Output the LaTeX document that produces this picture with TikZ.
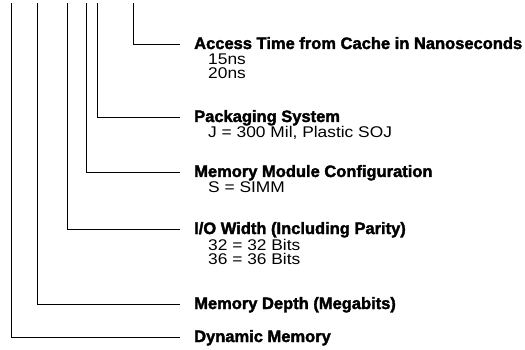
\documentclass[tikz,border=0pt]{standalone}
\usepackage{fontspec}
\setmainfont{Liberation Sans}[FakeStretch=1.12]
\newfontfamily\headfont{Liberation Sans Bold}[FakeStretch=1.0, FakeBold=2]
\usetikzlibrary{calc}

\tikzset{
	head/.style={font=\headfont\fontsize{16.5}{16.5}\selectfont, anchor=base west, inner sep=0pt},
	item/.style={font=\fontsize{15.5}{15.5}\selectfont, anchor=base west, inner sep=0pt},
	lead/.style={line width=0.9pt}
}

\begin{document}
\begin{tikzpicture}[x={(1pt,0pt)}, y={(0pt,-1pt)}]
				\useasboundingbox (0,0) rectangle (525,350);
				
				\node[head] (acc) at (194,49) {Access Time from Cache in Nanoseconds};
				\node[item] (acc1) at (208,64.5) {15ns};
				\node[item] (acc2) at (208,79) {20ns};
				
				\node[head] (pack) at (194,122) {Packaging System};
				\node[item] (pack1) at (208,138) {J = 300 Mil, Plastic SOJ};
				
				\node[head] (mod) at (194,177) {Memory Module Configuration};
				\node[item] (mod1) at (208,193) {S = SIMM};
				
				\node[head] (io) at (194,234) {I/O Width (Including Parity)};
				\node[item] (io1) at (208,250) {32 = 32 Bits};
				\node[item] (io2) at (208,264.5) {36 = 36 Bits};
				
				\node[head] (depth) at (194,309) {Memory Depth (Megabits)};
				
				\node[head] (dyn) at (194,342) {Dynamic Memory};
				
				% tops of the leaders
				\coordinate (tacc) at (133,3);
				\coordinate (tpack) at (97,3);
				\coordinate (tmod) at (86,3);
				\coordinate (tio) at (67,3);
				\coordinate (tdepth) at (37,3);
				\coordinate (tdyn) at (11,3);
				
				\draw[lead] (tacc) |- ([xshift=-14pt,yshift=5pt]acc.base west);
				\draw[lead] (tpack) |- ([xshift=-14pt,yshift=5pt]pack.base west);
				\draw[lead] (tmod) |- ([xshift=-14pt,yshift=5pt]mod.base west);
				\draw[lead] (tio) |- ([xshift=-14pt,yshift=5pt]io.base west);
				\draw[lead] (tdepth) |- ([xshift=-14pt,yshift=5pt]depth.base west);
				\draw[lead] (tdyn) |- ([xshift=-14pt,yshift=5pt]dyn.base west);
			\end{tikzpicture}
\end{document}
